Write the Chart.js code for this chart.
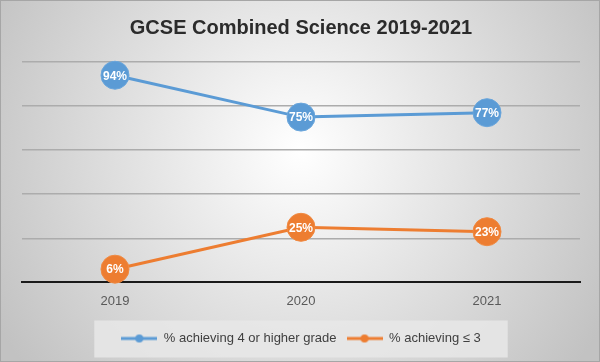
<!DOCTYPE html>
<html>
<head>
<meta charset="utf-8">
<script src="https://cdn.jsdelivr.net/npm/chart.js@4.4.1/dist/chart.umd.min.js"></script>
<style>
    body { margin: 0; background: #fff; }
    #wrap { width: 600px; height: 362px; }
</style>
</head>
<body>
<div id="wrap"><canvas id="chart" width="600" height="362"></canvas></div>
<script>
// ================================
// GCSE Combined Science chart
// ================================

const years = ['2019', '2020', '2021'];
const higherGrade = [94, 75, 77];
const gradeThreeOrLess = [6, 25, 23];
const seriesNames = ['% achieving 4 or higher grade', '% achieving \u2264 3'];
const yTicks = [0, 20, 40, 60, 80, 100];

const BLUE = '#5b9bd5';
const ORANGE = '#ed7d31';

// Legend marker: short line with a dot in the middle
function legendMarker(color) {
    const c = document.createElement('canvas');
    c.width = 36;
    c.height = 10;
    const g = c.getContext('2d');
    g.strokeStyle = color;
    g.lineWidth = 3;
    g.beginPath();
    g.moveTo(0, 5);
    g.lineTo(36, 5);
    g.stroke();
    g.fillStyle = color;
    g.beginPath();
    g.arc(18, 5, 4, 0, Math.PI * 2);
    g.fill();
    return c;
}

// Gradient background, border and legend box
const backgroundPlugin = {
    id: 'background',
    beforeDraw(chart) {
        const ctx = chart.ctx;
        const w = chart.width, h = chart.height;
        ctx.save();
        const grad = ctx.createRadialGradient(300, 150, 0, 300, 150, 350);
        grad.addColorStop(0, '#ffffff');
        grad.addColorStop(1, '#c2c2c2');
        ctx.fillStyle = grad;
        ctx.fillRect(0, 0, w, h);

        ctx.strokeStyle = '#a6a6a6';
        ctx.lineWidth = 1;
        ctx.strokeRect(0.5, 0.5, w - 1, h - 1);

        const lg = chart.legend;
        if (lg && lg.legendHitBoxes.length) {
            const boxes = lg.legendHitBoxes;
            const first = boxes[0];
            const last = boxes[boxes.length - 1];
            const x0 = first.left - 27;
            const x1 = last.left + last.width + 27;
            const yc = first.top + first.height / 2;
            ctx.fillStyle = 'rgba(232,232,232,0.85)';
            ctx.fillRect(x0, yc - 18, x1 - x0, 37);
        }
        ctx.restore();
    }
};

// White value labels inside the points
const valueLabels = {
    id: 'valueLabels',
    afterDatasetsDraw(chart) {
        const ctx = chart.ctx;
        ctx.save();
        ctx.font = 'bold 12px "Liberation Sans", Arial, sans-serif';
        ctx.fillStyle = '#ffffff';
        ctx.textAlign = 'center';
        ctx.textBaseline = 'middle';
        chart.data.datasets.forEach((ds, i) => {
            chart.getDatasetMeta(i).data.forEach((pt, j) => {
                ctx.fillText(ds.data[j] + '%', pt.x, pt.y + 1);
            });
        });
        ctx.restore();
    }
};

const ctx = document.getElementById('chart').getContext('2d');

new Chart(ctx, {
    type: 'line',
    data: {
        labels: years,
        datasets: [{
            label: seriesNames[0],
            data: higherGrade,
            borderColor: BLUE,
            backgroundColor: BLUE,
            borderWidth: 3,
            pointRadius: 14,
            pointHoverRadius: 14,
            pointBorderWidth: 1,
            pointBorderColor: '#6aa6dc',
            tension: 0
        }, {
            label: seriesNames[1],
            data: gradeThreeOrLess,
            borderColor: ORANGE,
            backgroundColor: ORANGE,
            borderWidth: 3,
            pointRadius: 14,
            pointHoverRadius: 14,
            pointBorderWidth: 1,
            pointBorderColor: '#f08a42',
            tension: 0
        }]
    },
    options: {
        responsive: false,
        animation: false,
        clip: false,
        layout: {
            padding: { top: 6, left: 22, right: 20, bottom: 7 }
        },
        plugins: {
            title: {
                display: true,
                text: 'GCSE Combined Science 2019-2021',
                color: '#2b2b2b',
                font: { family: '"Liberation Sans", Arial, sans-serif', size: 20, weight: 'bold' },
                padding: { top: 10, bottom: 22 }
            },
            legend: {
                position: 'bottom',
                labels: {
                    usePointStyle: true,
                    pointStyleWidth: 36,
                    color: '#404040',
                    padding: 10,
                    font: { family: '"Liberation Sans", Arial, sans-serif', size: 13 },
                    generateLabels(chart) {
                        const items = Chart.defaults.plugins.legend.labels.generateLabels(chart);
                        return items.map((it, i) => {
                            it.pointStyle = legendMarker(i === 0 ? BLUE : ORANGE);
                            return it;
                        });
                    }
                }
            },
            tooltip: { enabled: false }
        },
        scales: {
            x: {
                offset: true,
                grid: { display: false },
                border: { color: '#1a1a1a', width: 2 },
                ticks: {
                    color: '#595959',
                    padding: 3,
                    font: { family: '"Liberation Sans", Arial, sans-serif', size: 13 }
                },
                afterFit(scale) { scale.height += 10; }
            },
            y: {
                min: 0,
                max: 100,
                afterBuildTicks(scale) {
                    scale.ticks = yTicks.map(v => ({ value: v }));
                },
                ticks: { display: false },
                border: { display: false },
                grid: {
                    drawTicks: false,
                    color: c => c.tick.value === 0 ? 'rgba(0,0,0,0)' : '#acacac',
                    lineWidth: 1.5
                }
            }
        }
    },
    plugins: [backgroundPlugin, valueLabels]
});
</script>
</body>
</html>
